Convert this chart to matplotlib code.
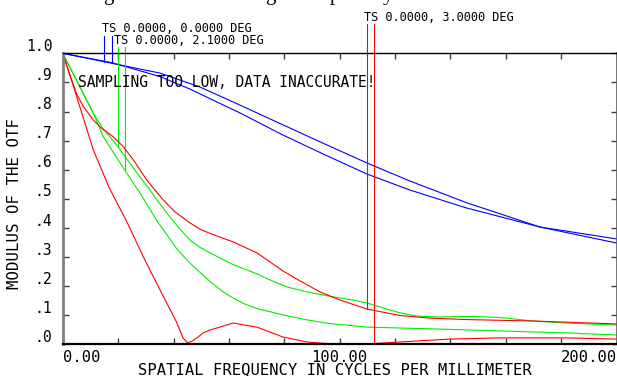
import matplotlib
matplotlib.use("Agg")
import matplotlib.pyplot as plt
import numpy as np
from matplotlib.transforms import ScaledTranslation

# MTF curves (cycles/mm, modulus)
f0_t_freq = [0, 15.02, 35.13, 49.57, 64.01, 79.53, 94.69, 109.86, 125.38, 145.96, 172.31, 200]
f0_t_mtf = [1.0, 0.971, 0.932, 0.884, 0.822, 0.754, 0.688, 0.623, 0.561, 0.486, 0.403, 0.348]
f0_s_freq = [0, 17.69, 35.13, 45.96, 64.01, 79.53, 94.69, 109.86, 125.38, 145.96, 172.31, 200]
f0_s_mtf = [1.0, 0.968, 0.920, 0.877, 0.795, 0.719, 0.651, 0.585, 0.530, 0.468, 0.403, 0.362]

f21_t_freq = [0, 11.05, 14.66, 20.07, 22.49, 27.9, 31.52, 34.04, 38.74, 42.35, 45.96,
              49.57, 53.18, 61.48, 70.14, 74.84, 80.97, 88.2, 97.58, 103.72, 109.86,
              115.63, 121.77, 127.9, 134.4, 148.12, 157.87, 169.78, 182.06, 200]
f21_t_mtf = [1.0, 0.794, 0.740, 0.678, 0.645, 0.575, 0.530, 0.496, 0.437, 0.396, 0.358,
             0.333, 0.314, 0.274, 0.242, 0.221, 0.197, 0.180, 0.163, 0.154, 0.142,
             0.125, 0.108, 0.097, 0.094, 0.096, 0.092, 0.080, 0.073, 0.066]
f21_s_freq = [0, 11.05, 14.66, 22.6, 27.9, 34.04, 41.26, 45.96, 49.57, 53.18, 57.51,
              61.48, 65.81, 70.14, 79.53, 88.2, 96.5, 103.72, 109.86, 133.68, 157.87,
              182.06, 200]
f21_s_mtf = [1.0, 0.794, 0.713, 0.596, 0.520, 0.424, 0.327, 0.279, 0.247, 0.216, 0.183,
             0.159, 0.138, 0.123, 0.101, 0.084, 0.071, 0.065, 0.059, 0.053, 0.046,
             0.039, 0.032]

f3_t_freq = [0, 2.64, 5.05, 7.44, 11.05, 14.08, 18.27, 21.88, 25.49, 30.32, 33.32,
             36.32, 40.54, 45.96, 49.57, 53.18, 61.48, 70.14, 74.84, 79.53, 85.67,
             92.89, 100.11, 109.86, 121.77, 132.6, 145.96, 169.78, 200]
f3_t_mtf = [1.0, 0.925, 0.860, 0.817, 0.771, 0.742, 0.713, 0.679, 0.634, 0.565, 0.530,
            0.496, 0.455, 0.417, 0.396, 0.381, 0.352, 0.314, 0.283, 0.252, 0.218,
            0.180, 0.152, 0.121, 0.099, 0.090, 0.085, 0.080, 0.070]
f3_s_freq = [0, 3.83, 11.05, 16.82, 23.21, 28.99, 35.13, 41.26, 43.43, 45.05, 46.68,
             48.48, 50.65, 53.18, 61.48, 70.14, 79.53, 88.2, 97.58, 109.86, 121.77,
             139.82, 157.87, 182.06, 200]
f3_s_mtf = [1.0, 0.888, 0.668, 0.537, 0.420, 0.303, 0.187, 0.073, 0.022, 0.005, 0.011,
            0.022, 0.039, 0.049, 0.073, 0.059, 0.025, 0.008, 0.001, 0.001, 0.008,
            0.018, 0.022, 0.022, 0.018]

field_labels = ["TS 0.0000, 0.0000 DEG", "TS 0.0000, 2.1000 DEG", "TS 0.0000, 3.0000 DEG"]
marker_freqs = [(15.0, 17.7), (20.1, 22.6), (109.9, 112.4)]

xticks = np.arange(0, 201, 20)
xtick_labels = ["0.00", "", "", "", "", "100.00", "", "", "", "", "200.00"]
yticks = np.arange(0, 1.01, 0.1)
ytick_labels = [".0", ".1", ".2", ".3", ".4", ".5", ".6", ".7", ".8", ".9", "1.0"]

mono = "DejaVu Sans Mono"
W, H = 617, 376

fig = plt.figure(figsize=(W / 100, H / 100), dpi=100)
ax = fig.add_axes([62.7 / W, 31.7 / H, 554 / W, 291 / H])

fields = [
    (f0_t_freq, f0_t_mtf, f0_s_freq, f0_s_mtf, "#0000ff", 1.059, (14.1, 1.074)),
    (f21_t_freq, f21_t_mtf, f21_s_freq, f21_s_mtf, "#00ee00", 1.021, (18.5, 1.032)),
    (f3_t_freq, f3_t_mtf, f3_s_freq, f3_s_mtf, "#ff0000", 1.0997, (108.8, 1.112)),
]

for i, (tf, tm, sf, sm, color, top, (lx, ly)) in enumerate(fields):
    ax.plot(tf, tm, color=color, lw=0.8)
    ax.plot(sf, sm, color=color, lw=0.8)
    # leader lines from the legend text down to each curve
    for fx, (cf, cm) in zip(marker_freqs[i], [(tf, tm), (sf, sm)]):
        bottom = np.interp(fx, cf, cm)
        ax.plot([fx, fx], [bottom, top], color=color, lw=0.8, clip_on=False)
    ax.text(lx, ly, field_labels[i], fontfamily=mono, fontsize=8.6,
            ha="left", va="baseline", clip_on=False)

ax.text(5.63, 0.883, "SAMPLING TOO LOW, DATA INACCURATE!", fontfamily=mono,
        fontsize=10.5, ha="left", va="baseline")

ax.set_xlim(0, 200)
ax.set_ylim(0, 1)
ax.set_xticks(xticks, xtick_labels, fontfamily=mono, fontsize=11.2)
ax.set_yticks(yticks, ytick_labels, fontfamily=mono, fontsize=10.6)
ax.tick_params(direction="in", length=4.5, width=1, color="#404040",
               top=True, right=True)
ax.tick_params(axis="x", pad=4.0)
ax.tick_params(axis="y", pad=7.2)

labs = ax.get_xticklabels()
labs[0].set_ha("left")
labs[-1].set_ha("right")
shift = ScaledTranslation(0, 2.3 / 100, fig.dpi_scale_trans)
for lab in ax.get_yticklabels():
    lab.set_va("baseline")
    lab.set_transform(lab.get_transform() + shift)

ax.spines["left"].set_color("#808080")
ax.spines["left"].set_linewidth(2)
ax.spines["bottom"].set_color("black")
ax.spines["bottom"].set_linewidth(1.6)
ax.spines["top"].set_linewidth(1)
ax.spines["right"].set_color("#606060")
ax.spines["right"].set_linewidth(1.2)

fig.text(14.5 / W, 1 - 203.5 / H, "MODULUS OF THE OTF", rotation=90,
         fontfamily=mono, fontsize=11.3, ha="center", va="center")
fig.text(335 / W, 2 / H, "SPATIAL FREQUENCY IN CYCLES PER MILLIMETER",
         fontfamily=mono, fontsize=11.2, ha="center", va="baseline")

# descenders of a caption cut off at the top of the image
caption_glyphs = ["g", "g", "p", "y"]
for ch, x in zip(caption_glyphs, [108, 270, 335, 388]):
    fig.text(x / W, 1.0, ch, fontfamily="Liberation Serif", fontsize=15,
             ha="center", va="baseline")

fig.savefig("out.png", dpi=100)
